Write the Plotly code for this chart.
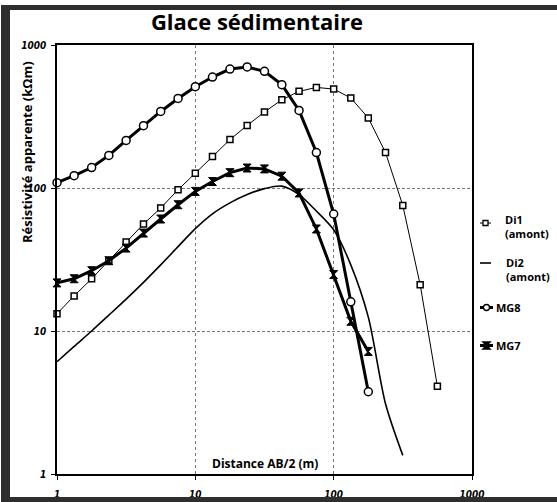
import plotly.graph_objects as go

# ---------------- data ----------------
ab2 = [1, 1.33, 1.78, 2.37, 3.16, 4.22, 5.62, 7.5, 10, 13.3, 17.8, 23.7,
       31.6, 42.2, 56.2, 75, 100, 133, 178, 237, 316, 422, 562]

di1 = [13.2, 17.6, 23.2, 31, 41.9, 56, 72.4, 97.3, 127, 166, 218, 274,
       340, 414, 474, 505, 492, 426, 309, 177, 75.5, 21.1, 4.1]

di2 = [6.1, 7.8, 10, 12.9, 16.7, 21.9, 29, 38.9, 52, 66, 78.7, 90,
       99, 103, 90, 69, 51, 29, 12.5, 3.1, 1.35]

mg8 = [109, 122, 139, 169, 215, 273, 343, 423, 511, 597, 679, 702,
       654, 528, 349, 177, 65.8, 16, 3.76]

mg7 = [21.7, 23.2, 26.4, 31, 38, 48.4, 60.7, 76.4, 94.7, 111, 128, 138,
       136, 121, 92.3, 51.7, 24.8, 11.7, 7.2]

tick_vals = [1, 10, 100, 1000]
tick_text = ["1", "10", "100", "1000"]

title_text = "Glace sédimentaire"
x_title = "Distance AB/2 (m)"
y_title = "Résistivité apparente (kΩm)"

# ---------------- layout geometry ----------------
W, H = 557, 502
L, R, T, B = 57, 472, 45, 474


def px(x):
    return (x - L) / (R - L)


def py(y):
    return (B - y) / (B - T)


MAIN_FONT = "Open Sans, Noto Sans, sans-serif"
TICK_FONT = "Liberation Sans Narrow, DejaVu Sans Condensed, Arial Narrow, sans-serif"

fig = go.Figure()

fig.add_trace(go.Scatter(
    x=ab2[:len(di2)], y=di2, mode="lines", name="Di2 (amont)",
    line=dict(color="black", width=1.6, shape="spline", smoothing=0.8),
    showlegend=False, cliponaxis=False))

fig.add_trace(go.Scatter(
    x=ab2[:len(di1)], y=di1, mode="lines+markers", name="Di1 (amont)",
    line=dict(color="black", width=1),
    marker=dict(symbol="square", size=6, color="white",
                line=dict(color="black", width=1.5)),
    showlegend=False, cliponaxis=False))

fig.add_trace(go.Scatter(
    x=ab2[:len(mg7)], y=mg7, mode="lines+markers", name="MG7",
    line=dict(color="black", width=3),
    marker=dict(symbol="hourglass", size=8, color="black",
                line=dict(color="black", width=1)),
    showlegend=False, cliponaxis=False))

fig.add_trace(go.Scatter(
    x=ab2[:len(mg8)], y=mg8, mode="lines+markers", name="MG8",
    line=dict(color="black", width=3),
    marker=dict(symbol="circle", size=8, color="white",
                line=dict(color="black", width=1.5)),
    showlegend=False, cliponaxis=False))

axis_common = dict(
    type="log", range=[0, 3], tickvals=tick_vals, ticktext=tick_text,
    ticks="outside", ticklen=4, tickwidth=1, tickcolor="black",
    showline=True, linecolor="black", linewidth=1.5, mirror=True,
    showgrid=True, gridcolor="#777", gridwidth=1,
    zeroline=False, automargin=False,
    tickfont=dict(family=TICK_FONT, size=10, color="black",
                  weight="bold", style="italic"),
)

fig.update_xaxes(**axis_common, griddash="dot", ticklabelstandoff=6)
fig.update_yaxes(**axis_common, griddash="3px,2px", ticklabelstandoff=3)

shapes = []
# outer frame (dark border)
frame_col = "#2e2e2e"
shapes.append(dict(type="rect", xref="paper", yref="paper",
                   x0=px(1), x1=px(10), y0=py(H), y1=py(5),
                   fillcolor=frame_col, line=dict(width=0), layer="above"))
shapes.append(dict(type="rect", xref="paper", yref="paper",
                   x0=px(1), x1=px(W), y0=py(10), y1=py(5),
                   fillcolor=frame_col, line=dict(width=0), layer="above"))
shapes.append(dict(type="rect", xref="paper", yref="paper",
                   x0=px(1), x1=px(W), y0=py(H), y1=py(497),
                   fillcolor=frame_col, line=dict(width=0), layer="above"))

annotations = []

# ---------- hand-built legend ----------
legend_items = [
    dict(text="Di1<br>(amont)", ly=223, tx=503, ty=226, lx0=480, lx1=491, lw=1, mk="square"),
    dict(text="Di2<br>(amont)", ly=263, tx=504, ty=269.5, lx0=480, lx1=491, lw=1.6, mk=None),
    dict(text="MG8", ly=307.5, tx=494, ty=307.5, lx0=480, lx1=493, lw=3, mk="circle"),
    dict(text="MG7", ly=345.5, tx=494, ty=345.5, lx0=480, lx1=493, lw=3, mk="hourglass"),
]
for it in legend_items:
    shapes.append(dict(type="line", xref="paper", yref="paper",
                       x0=px(it["lx0"]), x1=px(it["lx1"]),
                       y0=py(it["ly"]), y1=py(it["ly"]),
                       line=dict(color="black", width=it["lw"])))
    cx = (it["lx0"] + it["lx1"]) / 2
    cy = it["ly"]
    if it["mk"] == "square":
        shapes.append(dict(type="rect", xref="paper", yref="paper",
                           x0=px(cx - 2.5), x1=px(cx + 2.5),
                           y0=py(cy + 2.5), y1=py(cy - 2.5),
                           fillcolor="white", line=dict(color="black", width=1.3)))
    elif it["mk"] == "circle":
        shapes.append(dict(type="circle", xref="paper", yref="paper",
                           x0=px(cx - 3), x1=px(cx + 3),
                           y0=py(cy + 3), y1=py(cy - 3),
                           fillcolor="white", line=dict(color="black", width=1.3)))
    elif it["mk"] == "hourglass":
        s = 3.5
        path = "M {} {} L {} {} L {} {} L {} {} Z".format(
            px(cx - s), py(cy - s), px(cx + s), py(cy - s),
            px(cx - s), py(cy + s), px(cx + s), py(cy + s))
        shapes.append(dict(type="path", xref="paper", yref="paper", path=path,
                           fillcolor="black", line=dict(color="black", width=1.5)))
    annotations.append(dict(text="<b>" + it["text"] + "</b>", xref="paper", yref="paper",
                            x=px(it["tx"]), y=py(it["ty"]), xanchor="left", yanchor="middle",
                            align="left", showarrow=False,
                            font=dict(family=MAIN_FONT, size=11, color="black")))

# axis titles
annotations.append(dict(text="<b>" + x_title + "</b>", xref="paper", yref="paper",
                        x=px(265), y=py(463), xanchor="center", yanchor="middle",
                        showarrow=False, font=dict(family=MAIN_FONT, size=12, color="black")))
annotations.append(dict(text="<b>" + y_title + "</b>", xref="paper", yref="paper",
                        x=px(27), y=py(152), xanchor="center", yanchor="middle",
                        textangle=-90, showarrow=False,
                        font=dict(family=MAIN_FONT, size=13, color="black")))

fig.update_layout(
    width=W, height=H,
    margin=dict(l=L, r=W - R, t=T, b=H - B),
    paper_bgcolor="white", plot_bgcolor="white",
    title=dict(text="<b>" + title_text + "</b>", xref="container", yref="container",
               x=257 / W, xanchor="center", y=1 - 22 / H, yanchor="middle",
               font=dict(family=MAIN_FONT, size=22, color="black")),
    shapes=shapes, annotations=annotations,
    showlegend=False,
)

fig.write_html(
    "out.html",
    config={"displayModeBar": False},
    post_script="document.body.style.margin='0';document.body.style.overflow='hidden';",
)
